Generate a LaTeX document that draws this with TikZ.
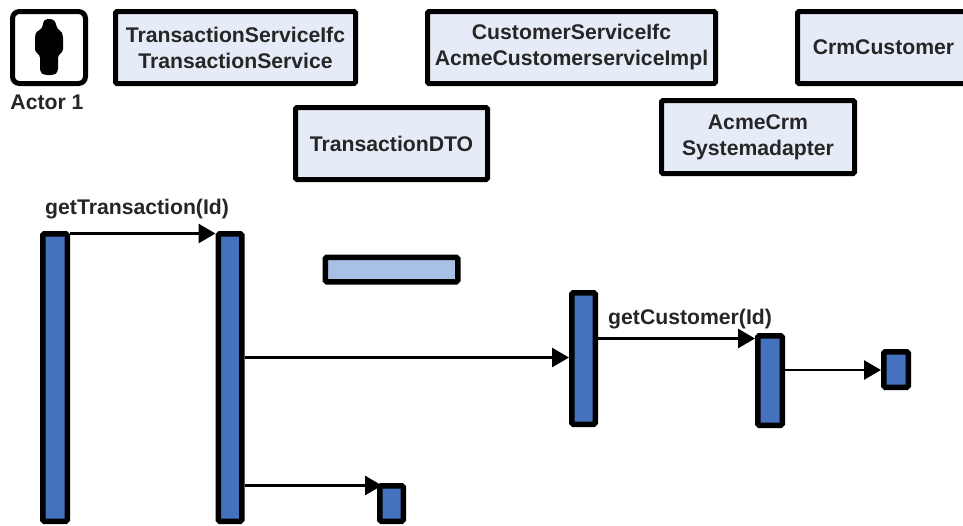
\documentclass[tikz,border=0pt]{standalone}
\usepackage{fontspec}
\setmainfont{Liberation Sans}
\usetikzlibrary{arrows.meta}
\definecolor{boxfill}{HTML}{E6ECF7}
\definecolor{barfill}{HTML}{4472BE}
\definecolor{lightbar}{HTML}{A9C0E6}
\definecolor{inkt}{HTML}{262626}
\tikzset{
  x=1pt,y=-1pt,
  headbox/.style={draw=black,line width=5pt,fill=boxfill,rounded corners=1.5pt,inner sep=0pt,align=center,text=inkt,font=\fontsize{21.2}{26}\selectfont\bfseries},
  actorbox/.style={draw=black,line width=5pt,fill=white,rounded corners=7pt,inner sep=0pt},
  lifebar/.style={draw=black,line width=5.5pt,fill=barfill,rounded corners=1.5pt,inner sep=0pt},
  stubbar/.style={draw=black,line width=5.5pt,fill=lightbar,rounded corners=1.5pt,inner sep=0pt},
  msg/.style={draw=black,line width=2.8pt,-{Triangle[length=17pt,width=19pt]}},
  lbl/.style={inner sep=0pt,text=inkt,font=\fontsize{21.2}{25}\selectfont\bfseries},
}
\begin{document}
\begin{tikzpicture}
\useasboundingbox[clip] (0,0) rectangle (963,525);
\fill[white] (0,0) rectangle (963,525);
% header boxes
\node[actorbox,minimum width=73pt,minimum height=72pt] (actor) at (49,47.5) {};
\fill[black,rounded corners=3pt] (43,23) -- (45,19) -- (53,19) -- (56,23) -- (57,29) -- (61,31) -- (63,35) -- (63,52) -- (58,55) -- (58,72) -- (54,75) -- (44,75) -- (40,72) -- (40,55) -- (35,52) -- (35,35) -- (37,31) -- (42,29) -- cycle;
\node[lbl] (actorlabel) at (47,102.5) {Actor 1};
\node[headbox,minimum width=240pt,minimum height=72pt] (ts) at (235.5,47.5) {TransactionServiceIfc\\TransactionService};
\node[headbox,minimum width=288pt,minimum height=72pt] (cs) at (571.5,47.5) {CustomerServiceIfc\\AcmeCustomerserviceImpl};
\node[headbox,minimum width=172pt,minimum height=72pt] (crm) at (883.5,47.5) {CrmCustomer};
\node[headbox,minimum width=192pt,minimum height=72pt] (dto) at (391.5,143.5) {TransactionDTO};
\node[headbox,minimum width=193pt,minimum height=73pt] (adapter) at (758,137) {AcmeCrm\\Systemadapter};
% bars
\node[lifebar,minimum width=24.5pt,minimum height=287.5pt,anchor=north] (b1) at (55,231) {};
\node[lifebar,minimum width=23.5pt,minimum height=287.5pt,anchor=north] (b2) at (230,231) {};
\node[stubbar,minimum width=132.5pt,minimum height=24.5pt] (dtobar) at (391.5,269.5) {};
\node[lifebar,minimum width=23.5pt,minimum height=131.5pt] (b3) at (583.5,358.5) {};
\node[lifebar,minimum width=24.5pt,minimum height=89.5pt] (b4) at (770,380.5) {};
\node[lifebar,minimum width=24.5pt,minimum height=35.5pt] (b5) at (896,369.5) {};
\node[lifebar,minimum width=23.5pt,minimum height=35.5pt,anchor=north] (b6) at (391.5,483) {};
% message levels
\coordinate (m1) at (0,233.5);
\coordinate (m2) at (0,357.5);
\coordinate (m3) at (0,338.5);
\coordinate (m4) at (0,370);
\coordinate (m5) at (0,485.5);
\coordinate (m5end) at (382,485.5);
\draw[msg] (b1.east |- m1) -- (b2.west |- m1);
\draw[msg] (b2.east |- m2) -- (b3.west |- m2);
\draw[msg] (b3.east |- m3) -- (b4.west |- m3);
\draw[msg] (b4.east |- m4) -- (b5.west |- m4);
\draw[msg] (b2.east |- m5) -- (m5end);
\node[lbl,anchor=base west] (l1) at (45,214.5) {getTransaction(Id)};
\node[lbl,anchor=base west] (l2) at (608,324) {getCustomer(Id)};
\end{tikzpicture}
\end{document}
